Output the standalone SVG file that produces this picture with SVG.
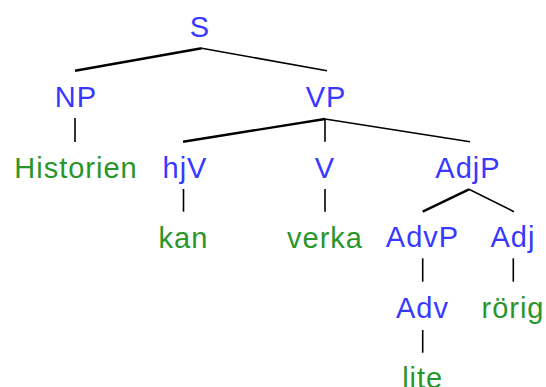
<svg xmlns="http://www.w3.org/2000/svg" width="546" height="387" viewBox="0 0 546 387">
<style>
text{font-family:"Liberation Sans",Arial,sans-serif;font-size:29px;text-anchor:middle;letter-spacing:1px}
.c{fill:#3838ff}
.w{fill:#2a962a}
line{stroke:#000;stroke-width:1.6}
line.t{stroke-width:2.4}
</style>
<rect width="546" height="387" fill="#fff"/>
<g id="connectors">
<line class="t" x1="201.7" y1="48.3" x2="75" y2="70.7"/>
<line x1="201.7" y1="48.3" x2="327" y2="70.7"/>
<line x1="75" y1="118" x2="75" y2="142"/>
<line class="t" x1="325" y1="119" x2="183" y2="141.7"/>
<line x1="325" y1="119" x2="325" y2="141.7"/>
<line x1="325" y1="119" x2="470" y2="141.7"/>
<line x1="183.5" y1="189" x2="183.5" y2="211.7"/>
<line x1="325" y1="189" x2="325" y2="211.7"/>
<line class="t" x1="469" y1="189.3" x2="422.7" y2="211.7"/>
<line x1="469" y1="189.3" x2="514" y2="211.7"/>
<line x1="422.7" y1="258.3" x2="422.7" y2="281.7"/>
<line x1="513.3" y1="258.3" x2="513.3" y2="281.7"/>
<line x1="422.7" y1="330" x2="422.7" y2="352.7"/>
</g>
<g id="S"><text class="c" x="200" y="37">S</text></g>
<g id="NP"><text class="c" x="76" y="107">NP</text></g>
<g id="VP"><text class="c" x="326" y="107">VP</text></g>
<g id="Historien"><text class="w" x="76" y="178">Historien</text></g>
<g id="hjV"><text class="c" x="185" y="178">hjV</text></g>
<g id="V"><text class="c" x="325" y="178">V</text></g>
<g id="AdjP"><text class="c" x="468" y="178">AdjP</text></g>
<g id="kan"><text class="w" x="183.5" y="247.5">kan</text></g>
<g id="verka"><text class="w" x="325" y="247.5">verka</text></g>
<g id="AdvP"><text class="c" x="422.5" y="247">AdvP</text></g>
<g id="Adj"><text class="c" x="513" y="247">Adj</text></g>
<g id="Adv"><text class="c" x="422.5" y="318">Adv</text></g>
<g id="rorig"><text class="w" x="513" y="318">rörig</text></g>
<g id="lite"><text class="w" x="422.7" y="388">lite</text></g>
</svg>
